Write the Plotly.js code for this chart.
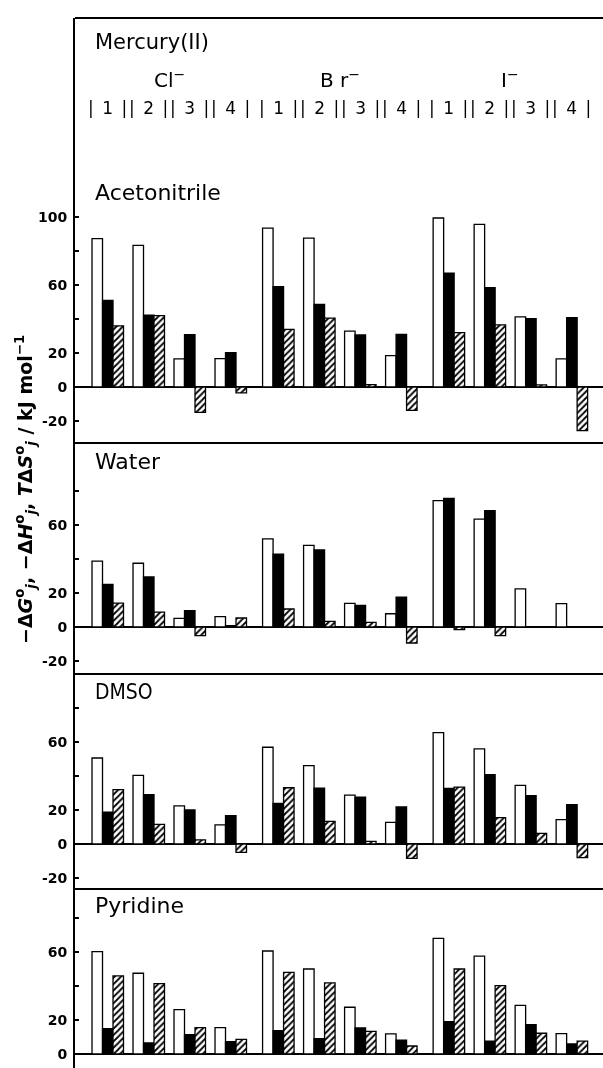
<!DOCTYPE html>
<html>
<head>
<meta charset="utf-8">
<script src="https://cdn.plot.ly/plotly-3.0.1.min.js"></script>
<style>
  html, body { margin: 0; padding: 0; background: #fff; }
  #chart { width: 603px; height: 1068px; will-change: transform; }
  #chart text { -webkit-font-smoothing: antialiased; }
</style>
</head>
<body>
<div id="chart"></div>
<script>
// ---------- data ----------
const metal = 'Mercury(II)';
const halides = ['Cl<sup>−</sup>', 'B r<sup>−</sup>', 'I<sup>−</sup>'];
const steps = ['1', '2', '3', '4'];
const solvents = ['Acetonitrile', 'Water', 'DMSO', 'Pyridine'];
const yTickVals = [-20, 0, 20, 60, 100];
const yTickText = ['-20', '0', '20', '60', '100'];
const yMinorTickVals = [40, 80];

// order of values: Cl 1-4, Br 1-4, I 1-4
// -ΔG (white), -ΔH (black), TΔS (hatched), kJ/mol
const acnG = [87.3, 83.3, 16.5, 16.7, 93.5, 87.6, 32.9, 18.4, 99.4, 95.7, 41.2, 16.5];
const acnH = [51.0, 42.2, 30.8, 20.2, 59.0, 48.6, 30.6, 31.0, 66.9, 58.4, 40.2, 40.8];
const acnS = [36.0, 42.0, -14.9, -3.5, 33.9, 40.5, 1.4, -13.7, 32.0, 36.5, 1.2, -25.7];

const watG = [38.8, 37.5, 5.1, 6.1, 51.8, 48.0, 13.9, 7.8, 74.3, 63.5, 22.4, 13.7];
const watH = [25.1, 29.4, 9.6, 0.8, 42.9, 45.3, 12.7, 17.6, 75.7, 68.4, null, null];
const watS = [14.1, 8.8, -5.1, 5.3, 10.6, 3.3, 2.7, -9.4, -1.6, -5.1, null, null];

const dmsoG = [50.6, 40.4, 22.4, 11.2, 56.9, 46.1, 28.8, 12.7, 65.5, 55.9, 34.5, 14.3];
const dmsoH = [18.8, 29.0, 20.0, 16.7, 23.9, 32.9, 27.5, 21.8, 32.7, 40.8, 28.4, 23.1];
const dmsoS = [32.0, 11.6, 2.4, -4.9, 33.1, 13.3, 1.6, -8.4, 33.5, 15.5, 6.3, -8.0];

const pyrG = [60.2, 47.5, 26.1, 15.5, 60.6, 50.0, 27.5, 11.8, 68.0, 57.6, 28.6, 12.0];
const pyrH = [14.9, 6.5, 11.4, 7.3, 13.7, 9.0, 15.3, 8.2, 19.0, 7.6, 17.3, 5.9];
const pyrS = [45.9, 41.4, 15.5, 8.6, 48.0, 41.8, 13.3, 4.7, 50.0, 40.2, 12.2, 7.6];

const seriesG = [acnG, watG, dmsoG, pyrG];
const seriesH = [acnH, watH, dmsoH, pyrH];
const seriesS = [acnS, watS, dmsoS, pyrS];

// ---------- layout helpers ----------
const W = 603, H = 1068, L = 75;
const halideSpacing = 4.16;          // in step units
const xPos = [];
halides.forEach((h, hi) => steps.forEach((s, si) => xPos.push(hi * halideSpacing + si)));

// panel pixel boundaries (top, bottom), zero position, highest tick shown
const panels = [
  {top: 18,  bot: 443,  zero: 387,  maxTick: 100},
  {top: 443, bot: 674,  zero: 627,  maxTick: 80},
  {top: 674, bot: 889,  zero: 844,  maxTick: 80},
  {top: 889, bot: 1068, zero: 1054, maxTick: 80}
];
const pxPerUnit = 1.70;
const py = v => 1 - v / H;

const fontFam = 'DejaVu Sans, Arial, sans-serif';
const traces = [];
const layout = {
  width: W, height: H,
  margin: {l: L, r: 0, t: 0, b: 0, pad: 0},
  paper_bgcolor: '#fff', plot_bgcolor: 'rgba(0,0,0,0)',
  showlegend: false,
  barmode: 'group', bargap: 0.232, bargroupgap: 0,
  font: {family: fontFam, color: '#000'},
  xaxis: {domain: [0, 1], range: [-0.799, 12.079], visible: false, anchor: 'y4', fixedrange: true},
  shapes: [], annotations: []
};

const lineStyle = {color: '#000', width: 1.3};
panels.forEach((p, i) => {
  const yid = i === 0 ? 'y' : 'y' + (i + 1);
  const key = i === 0 ? 'yaxis' : 'yaxis' + (i + 1);
  const tv = [], tt = [];
  yTickVals.forEach((v, k) => { if (v <= p.maxTick) { tv.push(v); tt.push(yTickText[k]); } });
  layout[key] = {
    domain: [py(p.bot), py(p.top)],
    range: [(p.zero - p.bot) / pxPerUnit, (p.zero - p.top) / pxPerUnit],
    anchor: 'x',
    tickmode: 'array', tickvals: tv, ticktext: tt,
    ticks: 'inside', ticklen: 4, tickwidth: 1.5, tickcolor: '#000',
    minor: {tickmode: 'array', tickvals: yMinorTickVals.filter(v => v <= p.maxTick),
            ticks: 'inside', ticklen: 4, tickwidth: 1.5, tickcolor: '#000', showgrid: false},
    ticklabelstandoff: 3,
    tickfont: {family: fontFam, size: 14, weight: 'bold', color: '#000'},
    showline: true, linewidth: 2, linecolor: '#000',
    showgrid: false,
    zeroline: true, zerolinewidth: 1.5, zerolinecolor: '#000',
    fixedrange: true
  };
  traces.push({
    type: 'bar', x: xPos, y: seriesG[i], xaxis: 'x', yaxis: yid,
    marker: {color: '#fff', line: lineStyle}, hoverinfo: 'skip'
  });
  traces.push({
    type: 'bar', x: xPos, y: seriesH[i], xaxis: 'x', yaxis: yid,
    marker: {color: '#000', line: lineStyle}, hoverinfo: 'skip'
  });
  traces.push({
    type: 'bar', x: xPos, y: seriesS[i], xaxis: 'x', yaxis: yid,
    marker: {color: '#fff', line: lineStyle,
             pattern: {shape: '/', fgcolor: '#000', bgcolor: '#fff', size: 4.5, solidity: 0.4}},
    hoverinfo: 'skip'
  });
  // horizontal frame / separator line at the top of each panel
  layout.shapes.push({type: 'line', xref: 'paper', yref: 'paper', x0: 0, x1: 1,
    y0: py(p.top), y1: py(p.top), line: {color: '#000', width: 2}});
});

// header texts
const leftTextX = (93 - L) / (W - L);
layout.annotations.push({xref: 'paper', yref: 'paper', x: leftTextX, y: py(42),
  xanchor: 'left', yanchor: 'middle', showarrow: false, text: metal,
  font: {family: fontFam, size: 21, color: '#000'}});
halides.forEach((h, hi) => {
  layout.annotations.push({xref: 'x', yref: 'paper', x: hi * halideSpacing + 1.5, y: py(79),
    xanchor: 'center', yanchor: 'middle', showarrow: false, text: h,
    font: {family: fontFam, size: 20, color: '#000'}});
  steps.forEach((s, si) => {
    layout.annotations.push({xref: 'x', yref: 'paper', x: hi * halideSpacing + si, y: py(108),
      xanchor: 'center', yanchor: 'middle', showarrow: false,
      text: '|\u2002' + s + '\u2002|',
      font: {family: fontFam, size: 17, color: '#000'}});
  });
});

// solvent names
const nameY = [192, 461, 692, 905];
solvents.forEach((s, i) => {
  layout.annotations.push({xref: 'paper', yref: 'paper', x: leftTextX, y: py(nameY[i]),
    xanchor: 'left', yanchor: 'middle', showarrow: false, text: s,
    font: {family: s === 'DMSO' ? 'DejaVu Sans Condensed, ' + fontFam : fontFam,
           size: s === 'DMSO' ? 21 : 22, color: '#000'}});
});

// y-axis title
layout.annotations.push({xref: 'paper', yref: 'paper', x: (25 - L) / (W - L), y: py(490),
  xanchor: 'center', yanchor: 'middle', textangle: -90, showarrow: false,
  text: '−Δ<i>G</i><sup>o</sup><sub><i>j</i></sub>, −Δ<i>H</i><sup>o</sup><sub><i>j</i></sub>, <i>T</i>Δ<i>S</i><sup>o</sup><sub><i>j</i></sub> / kJ mol<sup>−1</sup>',
  font: {family: fontFam, size: 19, weight: 'bold', color: '#000'}});

Plotly.newPlot('chart', traces, layout, {staticPlot: true, displayModeBar: false});
</script>
</body>
</html>
